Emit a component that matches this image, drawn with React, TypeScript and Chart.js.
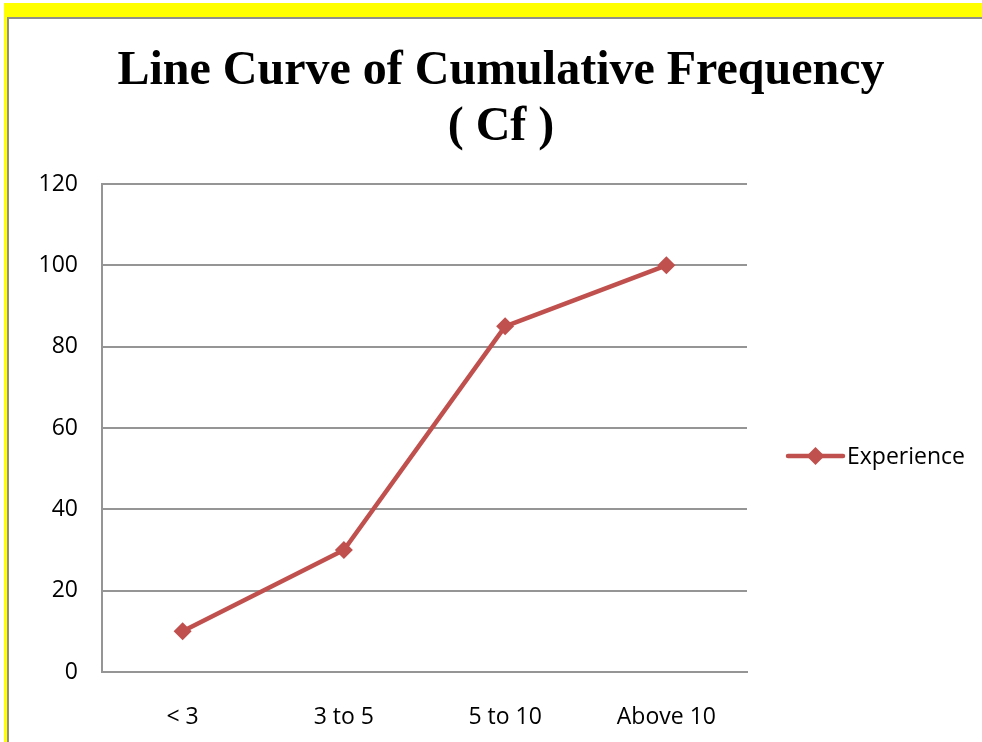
import React, { useEffect, useRef } from "react";
import { Chart, registerables } from "chart.js";

Chart.register(...registerables);

const categories = ["< 3", "3 to 5", "5 to 10", "Above 10"];
const experience = [10, 30, 85, 100];
const seriesName = "Experience";
const titleLines = ["Line Curve of Cumulative Frequency", "( Cf )"];
const yMin = 0;
const yMax = 120;
const yStep = 20;

const LINE_COLOR = "#C0504D";
const GRID_COLOR = "#959595";
const TICK_FONT = { family: "'Open Sans', sans-serif", size: 23 };

const legendPlugin = {
  id: "customLegend",
  afterDraw(chart: any) {
    const ctx = chart.ctx;
    const ds = chart.data.datasets[0];
    const y = 456;
    const x0 = 788;
    const x1 = 843;
    ctx.save();
    ctx.strokeStyle = ds.borderColor;
    ctx.lineWidth = ds.borderWidth;
    ctx.lineCap = "round";
    ctx.beginPath();
    ctx.moveTo(x0, y);
    ctx.lineTo(x1, y);
    ctx.stroke();
    const cx = (x0 + x1) / 2;
    const r = ds.pointRadius;
    ctx.fillStyle = ds.pointBackgroundColor;
    ctx.beginPath();
    ctx.moveTo(cx - r, y);
    ctx.lineTo(cx, y - r);
    ctx.lineTo(cx + r, y);
    ctx.lineTo(cx, y + r);
    ctx.closePath();
    ctx.fill();
    ctx.fillStyle = "#000";
    ctx.font = `${TICK_FONT.size}px ${TICK_FONT.family}`;
    ctx.textBaseline = "middle";
    ctx.textAlign = "left";
    ctx.fillText(ds.label, 847, y + 1);
    ctx.restore();
  },
};

export default function App() {
  const ref = useRef<HTMLCanvasElement>(null);
  useEffect(() => {
    if (!ref.current) return;
    const chart = new Chart(ref.current, {
      type: "line",
      data: {
        labels: categories,
        datasets: [
          {
            label: seriesName,
            data: experience,
            borderColor: LINE_COLOR,
            backgroundColor: LINE_COLOR,
            pointBackgroundColor: LINE_COLOR,
            pointBorderColor: LINE_COLOR,
            borderWidth: 4.5,
            pointStyle: "rectRot",
            pointRadius: 9,
            pointBorderWidth: 0,
            tension: 0,
            yAxisID: "y",
          },
        ],
      },
      options: {
        animation: false,
        responsive: false,
        devicePixelRatio: 1,
        layout: { padding: { left: 20, right: 0, top: 0, bottom: 0 } },
        plugins: {
          legend: { display: false },
          tooltip: { enabled: false },
          title: {
            display: true,
            text: titleLines,
            color: "#000",
            font: { family: "'Liberation Serif', 'Times New Roman', serif", size: 48, weight: "bold", lineHeight: 56 / 48 },
            padding: { top: 44, bottom: 28 },
          },
        },
        scales: {
          x: {
            offset: true,
            grid: { display: false, drawTicks: false },
            border: { display: true, color: GRID_COLOR, width: 2 },
            ticks: { color: "#000", font: TICK_FONT, padding: 32, maxRotation: 0 },
            afterFit: (s: any) => {
              s.height = 70;
            },
          },
          y: {
            min: yMin,
            max: yMax,
            grid: { color: GRID_COLOR, lineWidth: 2, drawTicks: false },
            border: { display: true, color: GRID_COLOR, width: 2 },
            ticks: { stepSize: yStep, color: "#000", font: TICK_FONT, padding: 24 },
            afterFit: (s: any) => {
              s.width = 82;
            },
          },
          yRight: {
            type: "linear",
            position: "right",
            display: true,
            grid: { display: false, drawTicks: false },
            border: { display: false },
            ticks: { display: false },
            afterFit: (s: any) => {
              s.width = 235;
            },
          },
        },
      },
      plugins: [legendPlugin],
    } as any);
    return () => chart.destroy();
  }, []);

  return (
    <div style={{ position: "fixed", left: 0, top: 0, width: 982, height: 742, background: "#fff", overflow: "hidden" }}>
      <div style={{ position: "absolute", left: 4, top: 3, right: 0, bottom: 0, background: "#ffff00" }} />
      <div
        style={{
          position: "absolute",
          left: 7,
          top: 17,
          right: 0,
          bottom: 0,
          background: "#fff",
          borderTop: "2px solid #8e8e8e",
          borderLeft: "2px solid #8e8e8e",
        }}
      />
      <canvas ref={ref} width={982} height={742} style={{ position: "absolute", left: 0, top: 0, width: 982, height: 742 }} />
    </div>
  );
}
